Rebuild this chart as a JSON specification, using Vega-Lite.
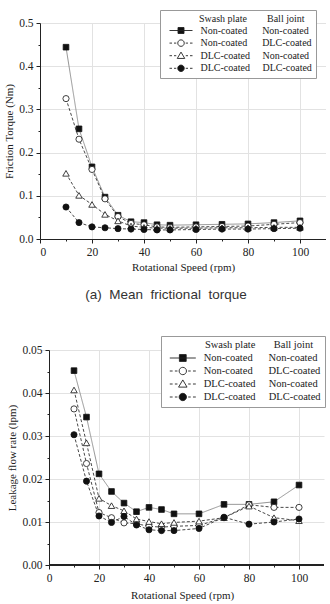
{
  "$schema": "https://vega.github.io/schema/vega-lite/v6.json",
  "padding": {"left": 3, "top": 9, "right": 0, "bottom": 0},
  "background": "white",
  "spacing": 34,
  "resolve": {"scale": {"shape": "independent", "fill": "independent", "x": "independent", "y": "independent"}, "legend": {"shape": "independent", "fill": "independent"}},
  "config": {
    "view": {"stroke": null},
    "axis": {
      "labelFont": "Liberation Serif", "labelFontSize": 11.5, "labelColor": "#222",
      "titleFont": "Liberation Serif", "titleFontSize": 11, "titleFontWeight": "normal", "titleColor": "#222",
      "domainColor": "#222", "tickColor": "#222", "gridColor": "#e2e2e2", "labelPadding": 3
    },
    "legend": {
      "titleFont": "Liberation Serif", "titleFontWeight": "normal", "titleColor": "#222",
      "labelFont": "Liberation Serif", "labelColor": "#222",
      "strokeColor": "#999", "fillColor": "white", "padding": 4, "titleAnchor": "end",
      "symbolStrokeWidth": 0.9, "symbolStrokeColor": "#222", "titlePadding": 1, "rowPadding": 1.6
    }
  },
  "datasets": {
    "torque": [
      {"rpm": 10, "series": "NN", "v": 0.444}, {"rpm": 15, "series": "NN", "v": 0.255}, {"rpm": 20, "series": "NN", "v": 0.167}, {"rpm": 25, "series": "NN", "v": 0.097}, {"rpm": 30, "series": "NN", "v": 0.055}, {"rpm": 35, "series": "NN", "v": 0.040}, {"rpm": 40, "series": "NN", "v": 0.038}, {"rpm": 45, "series": "NN", "v": 0.033}, {"rpm": 50, "series": "NN", "v": 0.032}, {"rpm": 60, "series": "NN", "v": 0.033}, {"rpm": 70, "series": "NN", "v": 0.034}, {"rpm": 80, "series": "NN", "v": 0.035}, {"rpm": 90, "series": "NN", "v": 0.038}, {"rpm": 100, "series": "NN", "v": 0.042},
      {"rpm": 10, "series": "ND", "v": 0.325}, {"rpm": 15, "series": "ND", "v": 0.231}, {"rpm": 20, "series": "ND", "v": 0.161}, {"rpm": 25, "series": "ND", "v": 0.093}, {"rpm": 30, "series": "ND", "v": 0.052}, {"rpm": 35, "series": "ND", "v": 0.036}, {"rpm": 40, "series": "ND", "v": 0.033}, {"rpm": 45, "series": "ND", "v": 0.028}, {"rpm": 50, "series": "ND", "v": 0.027}, {"rpm": 60, "series": "ND", "v": 0.028}, {"rpm": 70, "series": "ND", "v": 0.029}, {"rpm": 80, "series": "ND", "v": 0.030}, {"rpm": 90, "series": "ND", "v": 0.034}, {"rpm": 100, "series": "ND", "v": 0.038},
      {"rpm": 10, "series": "DN", "v": 0.152}, {"rpm": 15, "series": "DN", "v": 0.101}, {"rpm": 20, "series": "DN", "v": 0.080}, {"rpm": 25, "series": "DN", "v": 0.057}, {"rpm": 30, "series": "DN", "v": 0.042}, {"rpm": 35, "series": "DN", "v": 0.030}, {"rpm": 40, "series": "DN", "v": 0.027}, {"rpm": 45, "series": "DN", "v": 0.025}, {"rpm": 50, "series": "DN", "v": 0.025}, {"rpm": 60, "series": "DN", "v": 0.025}, {"rpm": 70, "series": "DN", "v": 0.026}, {"rpm": 80, "series": "DN", "v": 0.026}, {"rpm": 90, "series": "DN", "v": 0.027}, {"rpm": 100, "series": "DN", "v": 0.027},
      {"rpm": 10, "series": "DD", "v": 0.074}, {"rpm": 15, "series": "DD", "v": 0.038}, {"rpm": 20, "series": "DD", "v": 0.028}, {"rpm": 25, "series": "DD", "v": 0.026}, {"rpm": 30, "series": "DD", "v": 0.024}, {"rpm": 35, "series": "DD", "v": 0.023}, {"rpm": 40, "series": "DD", "v": 0.022}, {"rpm": 45, "series": "DD", "v": 0.021}, {"rpm": 50, "series": "DD", "v": 0.021}, {"rpm": 60, "series": "DD", "v": 0.022}, {"rpm": 70, "series": "DD", "v": 0.023}, {"rpm": 80, "series": "DD", "v": 0.023}, {"rpm": 90, "series": "DD", "v": 0.024}, {"rpm": 100, "series": "DD", "v": 0.025}
    ],
    "leak": [
      {"rpm": 10, "series": "NN", "v": 0.0452}, {"rpm": 15, "series": "NN", "v": 0.0344}, {"rpm": 20, "series": "NN", "v": 0.0212}, {"rpm": 25, "series": "NN", "v": 0.0171}, {"rpm": 30, "series": "NN", "v": 0.0144}, {"rpm": 35, "series": "NN", "v": 0.0124}, {"rpm": 40, "series": "NN", "v": 0.0134}, {"rpm": 45, "series": "NN", "v": 0.0129}, {"rpm": 50, "series": "NN", "v": 0.0119}, {"rpm": 60, "series": "NN", "v": 0.0119}, {"rpm": 70, "series": "NN", "v": 0.0141}, {"rpm": 80, "series": "NN", "v": 0.0141}, {"rpm": 90, "series": "NN", "v": 0.0147}, {"rpm": 100, "series": "NN", "v": 0.0186},
      {"rpm": 10, "series": "ND", "v": 0.0363}, {"rpm": 15, "series": "ND", "v": 0.0236}, {"rpm": 20, "series": "ND", "v": 0.0122}, {"rpm": 25, "series": "ND", "v": 0.0110}, {"rpm": 30, "series": "ND", "v": 0.0098}, {"rpm": 35, "series": "ND", "v": 0.0096}, {"rpm": 40, "series": "ND", "v": 0.0090}, {"rpm": 45, "series": "ND", "v": 0.0088}, {"rpm": 50, "series": "ND", "v": 0.0090}, {"rpm": 60, "series": "ND", "v": 0.0092}, {"rpm": 70, "series": "ND", "v": 0.0110}, {"rpm": 80, "series": "ND", "v": 0.0140}, {"rpm": 90, "series": "ND", "v": 0.0134}, {"rpm": 100, "series": "ND", "v": 0.0134},
      {"rpm": 10, "series": "DN", "v": 0.0407}, {"rpm": 15, "series": "DN", "v": 0.0284}, {"rpm": 20, "series": "DN", "v": 0.0155}, {"rpm": 25, "series": "DN", "v": 0.0138}, {"rpm": 30, "series": "DN", "v": 0.0126}, {"rpm": 35, "series": "DN", "v": 0.0107}, {"rpm": 40, "series": "DN", "v": 0.0101}, {"rpm": 45, "series": "DN", "v": 0.0096}, {"rpm": 50, "series": "DN", "v": 0.0099}, {"rpm": 60, "series": "DN", "v": 0.0102}, {"rpm": 70, "series": "DN", "v": 0.0110}, {"rpm": 80, "series": "DN", "v": 0.0137}, {"rpm": 90, "series": "DN", "v": 0.0110}, {"rpm": 100, "series": "DN", "v": 0.0103},
      {"rpm": 10, "series": "DD", "v": 0.0303}, {"rpm": 15, "series": "DD", "v": 0.0195}, {"rpm": 20, "series": "DD", "v": 0.0114}, {"rpm": 25, "series": "DD", "v": 0.0099}, {"rpm": 30, "series": "DD", "v": 0.0113}, {"rpm": 35, "series": "DD", "v": 0.0093}, {"rpm": 40, "series": "DD", "v": 0.0082}, {"rpm": 45, "series": "DD", "v": 0.0080}, {"rpm": 50, "series": "DD", "v": 0.0080}, {"rpm": 60, "series": "DD", "v": 0.0085}, {"rpm": 70, "series": "DD", "v": 0.0111}, {"rpm": 80, "series": "DD", "v": 0.0095}, {"rpm": 90, "series": "DD", "v": 0.0100}, {"rpm": 100, "series": "DD", "v": 0.0107}
    ]
  },
  "vconcat": [
    {
      "width": 286, "height": 216,
      "data": {"name": "torque"},
      "title": {"text": "(a)\u00a0\u00a0Mean\u00a0\u00a0frictional\u00a0\u00a0torque", "orient": "bottom", "font": "Liberation Sans", "fontSize": 13.5, "fontWeight": "normal", "color": "#333", "offset": 15, "dx": -17},
      "encoding": {
        "x": {"field": "rpm", "type": "quantitative", "scale": {"domain": [0, 110], "nice": false},
          "axis": {"title": "Rotational Speed (rpm)", "values": [0, 10, 20, 30, 40, 50, 60, 70, 80, 90, 100],
            "labelExpr": "datum.value % 20 === 0 ? datum.label : ''", "titlePadding": 4,
            "tickSize": {"condition": {"test": "datum.value % 20 === 0", "value": 4}, "value": 2},
            "gridOpacity": {"condition": {"test": "datum.value % 20 === 0 && datum.value > 0", "value": 1}, "value": 0}}},
        "y": {"field": "v", "type": "quantitative", "scale": {"domain": [0, 0.5], "nice": false},
          "axis": {"title": "Friction Torque (Nm)", "values": [0, 0.05, 0.1, 0.15, 0.2, 0.25, 0.3, 0.35, 0.4, 0.45, 0.5],
            "labelExpr": "round(datum.value * 100) % 10 === 0 ? format(datum.value, '.1f') : ''", "titlePadding": 4,
            "tickSize": {"condition": {"test": "round(datum.value * 100) % 10 === 0", "value": 4}, "value": 2},
            "gridOpacity": {"condition": {"test": "round(datum.value * 100) % 10 === 0 && datum.value > 0", "value": 1}, "value": 0}}}
      },
      "layer": [
        {
          "mark": {"type": "line", "strokeWidth": 0.9},
          "encoding": {
            "detail": {"field": "series"},
            "stroke": {"condition": {"test": "datum.series === 'NN'", "value": "#888"}, "value": "#333"},
            "strokeDash": {"condition": {"test": "datum.series === 'NN'", "value": [1, 0]}, "value": [3, 2]}
          }
        },
        {
          "mark": {"type": "point", "stroke": "#111", "strokeWidth": 0.8, "opacity": 1},
          "encoding": {
            "shape": {"condition": [{"test": "datum.series === 'NN'", "value": "square"}, {"test": "datum.series === 'DN'", "value": "triangle-up"}], "value": "circle"},
            "size": {"condition": [{"test": "datum.series === 'NN'", "value": 32}, {"test": "datum.series === 'DN'", "value": 42}], "value": 38},
            "fill": {"condition": {"test": "datum.series === 'NN' || datum.series === 'DD'", "value": "#111"}, "value": "white"}
          }
        },
        {
          "transform": [{"filter": "false"}],
          "mark": {"type": "point", "stroke": "#222", "strokeWidth": 0.9, "opacity": 1},
          "encoding": {
            "x": null, "y": null,
            "shape": {"field": "series", "type": "nominal",
              "scale": {"domain": ["NN", "ND", "DN", "DD"], "range": [
                "M-2.3,0H2.3M-0.6,-0.6H0.6V0.6H-0.6Z",
                "M-2.3,0H-1.8M-1.4,0H-0.95M0.95,0H1.4M1.8,0H2.3M0.65,0A0.65,0.65,0,1,1,-0.65,0A0.65,0.65,0,1,1,0.65,0Z",
                "M-2.3,0H-1.8M-1.4,0H-0.95M0.95,0H1.4M1.8,0H2.3M0,-0.72L0.75,0.55L-0.75,0.55Z",
                "M-2.3,0H-1.8M-1.4,0H-0.95M0.95,0H1.4M1.8,0H2.3M0.65,0A0.65,0.65,0,1,1,-0.65,0A0.65,0.65,0,1,1,0.65,0Z"]},
              "legend": {"orient": "none", "legendX": 120, "legendY": -13,
                "title": "Swash plate\u00a0\u00a0\u00a0\u00a0\u00a0\u00a0\u00a0\u00a0Ball joint\u00a0\u00a0\u00a0\u200b",
                "titleFont": "Liberation Serif", "labelFont": "Liberation Serif", "symbolFillColor": "white",
                "titleFontSize": 10, "labelFontSize": 10, "symbolSize": 100, "symbolOffset": 11.5, "labelOffset": 14,
                "labelExpr": "datum.value === 'NN' ? 'Non-coated\u00a0\u00a0\u00a0\u00a0\u00a0\u00a0Non-coated' : datum.value === 'ND' ? 'Non-coated\u00a0\u00a0\u00a0\u00a0\u00a0\u00a0DLC-coated' : datum.value === 'DN' ? 'DLC-coated\u00a0\u00a0\u00a0\u00a0\u00a0Non-coated' : 'DLC-coated\u00a0\u00a0\u00a0\u00a0\u00a0DLC-coated'"}},
            "fill": {"field": "series", "type": "nominal",
              "scale": {"domain": ["NN", "ND", "DN", "DD"], "range": ["#111", "white", "white", "#111"]},
              "legend": {"orient": "none", "legendX": 120, "legendY": -13,
                "title": "Swash plate\u00a0\u00a0\u00a0\u00a0\u00a0\u00a0\u00a0\u00a0Ball joint\u00a0\u00a0\u00a0\u200b",
                "titleFont": "Liberation Serif", "labelFont": "Liberation Serif", "symbolFillColor": "white",
                "titleFontSize": 10, "labelFontSize": 10, "symbolSize": 100, "symbolOffset": 11.5, "labelOffset": 14,
                "labelExpr": "datum.value === 'NN' ? 'Non-coated\u00a0\u00a0\u00a0\u00a0\u00a0\u00a0Non-coated' : datum.value === 'ND' ? 'Non-coated\u00a0\u00a0\u00a0\u00a0\u00a0\u00a0DLC-coated' : datum.value === 'DN' ? 'DLC-coated\u00a0\u00a0\u00a0\u00a0\u00a0Non-coated' : 'DLC-coated\u00a0\u00a0\u00a0\u00a0\u00a0DLC-coated'"}}
          }
        }
      ]
    },
    {
      "width": 284, "height": 215,
      "data": {"name": "leak"},
      "encoding": {
        "x": {"field": "rpm", "type": "quantitative", "scale": {"domain": [-3.6, 110], "nice": false, "zero": false},
          "axis": {"title": "Rotational Speed (rpm)", "values": [0, 10, 20, 30, 40, 50, 60, 70, 80, 90, 100], "domain": false,
            "labelExpr": "datum.value % 20 === 0 ? datum.label : ''", "titlePadding": 6,
            "tickSize": {"condition": {"test": "datum.value % 20 === 0", "value": 4}, "value": 2},
            "gridOpacity": {"condition": {"test": "datum.value % 20 === 0 && datum.value > 0", "value": 1}, "value": 0}}},
        "y": {"field": "v", "type": "quantitative", "scale": {"domain": [0, 0.05], "nice": false},
          "axis": {"title": "Leakage flow rate (lpm)", "offset": -9, "values": [0, 0.005, 0.01, 0.015, 0.02, 0.025, 0.03, 0.035, 0.04, 0.045, 0.05],
            "labelExpr": "round(datum.value * 1000) % 10 === 0 ? format(datum.value, '.2f') : ''", "titlePadding": 4,
            "tickSize": {"condition": {"test": "round(datum.value * 1000) % 10 === 0", "value": 4}, "value": 2},
            "gridOpacity": {"condition": {"test": "round(datum.value * 1000) % 10 === 0 && datum.value > 0", "value": 1}, "value": 0}}}
      },
      "layer": [
        {
          "mark": {"type": "rule", "stroke": "#222", "strokeWidth": 1},
          "encoding": {"x": {"datum": 0}, "x2": {"datum": 110}, "y": {"datum": 0}}
        },
        {
          "mark": {"type": "line", "strokeWidth": 0.9},
          "encoding": {
            "detail": {"field": "series"},
            "stroke": {"condition": {"test": "datum.series === 'NN'", "value": "#888"}, "value": "#333"},
            "strokeDash": {"condition": {"test": "datum.series === 'NN'", "value": [1, 0]}, "value": [3, 2]}
          }
        },
        {
          "mark": {"type": "point", "stroke": "#111", "strokeWidth": 0.8, "opacity": 1},
          "encoding": {
            "shape": {"condition": [{"test": "datum.series === 'NN'", "value": "square"}, {"test": "datum.series === 'DN'", "value": "triangle-up"}], "value": "circle"},
            "size": {"condition": [{"test": "datum.series === 'NN'", "value": 32}, {"test": "datum.series === 'DN'", "value": 42}], "value": 38},
            "fill": {"condition": {"test": "datum.series === 'NN' || datum.series === 'DD'", "value": "#111"}, "value": "white"}
          }
        },
        {
          "transform": [{"filter": "false"}],
          "mark": {"type": "point", "stroke": "#222", "strokeWidth": 0.9, "opacity": 1},
          "encoding": {
            "x": null, "y": null,
            "shape": {"field": "series", "type": "nominal",
              "scale": {"domain": ["NN", "ND", "DN", "DD"], "range": [
                "M-2.3,0H2.3M-0.6,-0.6H0.6V0.6H-0.6Z",
                "M-2.3,0H-1.8M-1.4,0H-0.95M0.95,0H1.4M1.8,0H2.3M0.65,0A0.65,0.65,0,1,1,-0.65,0A0.65,0.65,0,1,1,0.65,0Z",
                "M-2.3,0H-1.8M-1.4,0H-0.95M0.95,0H1.4M1.8,0H2.3M0,-0.72L0.75,0.55L-0.75,0.55Z",
                "M-2.3,0H-1.8M-1.4,0H-0.95M0.95,0H1.4M1.8,0H2.3M0.65,0A0.65,0.65,0,1,1,-0.65,0A0.65,0.65,0,1,1,0.65,0Z"]},
              "legend": {"orient": "none", "legendX": 121, "legendY": -14,
                "title": "Swash plate\u00a0\u00a0\u00a0\u00a0\u00a0\u00a0\u00a0Ball joint\u00a0\u00a0\u00a0\u200b",
                "titleFont": "Liberation Serif", "labelFont": "Liberation Serif", "symbolFillColor": "white",
                "titleFontSize": 10.5, "labelFontSize": 10.5, "symbolSize": 128, "symbolOffset": 11.3, "labelOffset": 14.4, "rowPadding": 1,
                "labelExpr": "datum.value === 'NN' ? 'Non-coated\u00a0\u00a0\u00a0\u00a0\u00a0\u00a0Non-coated' : datum.value === 'ND' ? 'Non-coated\u00a0\u00a0\u00a0\u00a0\u00a0\u00a0DLC-coated' : datum.value === 'DN' ? 'DLC-coated\u00a0\u00a0\u00a0\u00a0\u00a0Non-coated' : 'DLC-coated\u00a0\u00a0\u00a0\u00a0\u00a0DLC-coated'"}},
            "fill": {"field": "series", "type": "nominal",
              "scale": {"domain": ["NN", "ND", "DN", "DD"], "range": ["#111", "white", "white", "#111"]},
              "legend": {"orient": "none", "legendX": 121, "legendY": -14,
                "title": "Swash plate\u00a0\u00a0\u00a0\u00a0\u00a0\u00a0\u00a0Ball joint\u00a0\u00a0\u00a0\u200b",
                "titleFont": "Liberation Serif", "labelFont": "Liberation Serif", "symbolFillColor": "white",
                "titleFontSize": 10.5, "labelFontSize": 10.5, "symbolSize": 128, "symbolOffset": 11.3, "labelOffset": 14.4, "rowPadding": 1,
                "labelExpr": "datum.value === 'NN' ? 'Non-coated\u00a0\u00a0\u00a0\u00a0\u00a0\u00a0Non-coated' : datum.value === 'ND' ? 'Non-coated\u00a0\u00a0\u00a0\u00a0\u00a0\u00a0DLC-coated' : datum.value === 'DN' ? 'DLC-coated\u00a0\u00a0\u00a0\u00a0\u00a0Non-coated' : 'DLC-coated\u00a0\u00a0\u00a0\u00a0\u00a0DLC-coated'"}}
          }
        }
      ]
    }
  ]
}
